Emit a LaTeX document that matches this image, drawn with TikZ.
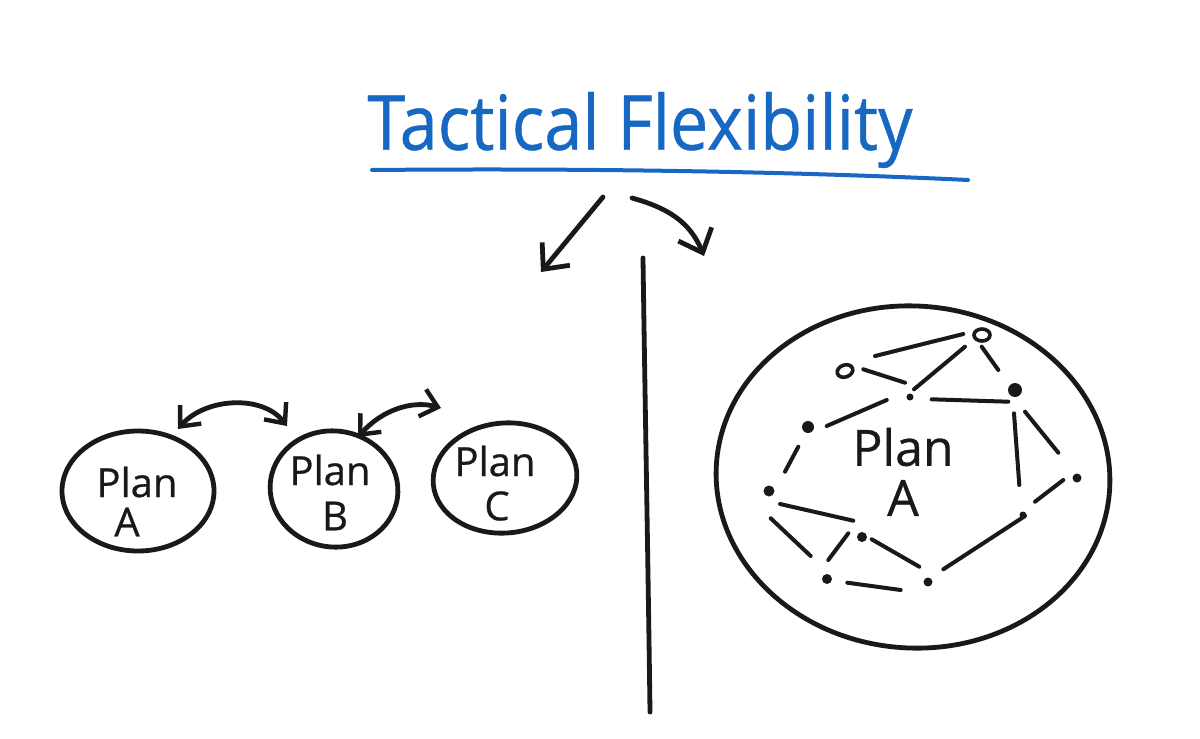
\documentclass[tikz,border=0pt]{standalone}
\usepackage{fontspec}
\setmainfont{Open Sans}
\newfontfamily\hand[FakeBold=0.6]{Open Sans}
\usetikzlibrary{arrows.meta,shapes.geometric}
\definecolor{penblue}{RGB}{22,104,194}
\definecolor{ink}{RGB}{25,25,25}
\tikzset{
  pen/.style={draw=ink,line width=2.4pt,line cap=round,line join=round},
  thin pen/.style={draw=ink,line width=2pt,line cap=round},
  barb/.style={-{Straight Barb[length=10pt,width=18pt,line width=2.4pt]}},
  dbarb/.style={{Straight Barb[length=8pt,width=14pt,line width=2.2pt]}-{Straight Barb[length=8pt,width=14pt,line width=2.2pt]}},
  plan/.style={pen,ellipse,inner sep=0pt},
  lbl/.style={text=ink,font=\hand\fontsize{20}{20}\selectfont,inner sep=0pt},
  biglbl/.style={text=ink,font=\hand\fontsize{25}{25}\selectfont,inner sep=0pt},
  dot/.style={circle,fill=ink,inner sep=0pt,minimum size=#1},
  odot/.style={ellipse,draw=ink,line width=1.8pt,inner sep=0pt,minimum width=8pt,minimum height=6pt},
}
\begin{document}
\begin{tikzpicture}[x=0.5pt,y=-0.5pt]
\useasboundingbox[fill=white] (0,0) rectangle (1200,739);
% title
\node[text=penblue,font=\hand\fontsize{38}{38}\selectfont,inner sep=0pt] (title) at (640,130) {\scalebox{0.9}[1]{Tactical Flexibility}};
\coordinate (ul1) at (372,170);
\coordinate (ul2) at (968,180);
\draw[draw=penblue,line width=2pt,line cap=round] (ul1) .. controls (600,168) and (800,172) .. (ul2);
% arrows from title
\coordinate (la1) at (603,197);
\coordinate (la2) at (541,272);
\draw[pen,barb] (la1) -- (la2);
\coordinate (ra1) at (632,198);
\coordinate (ra2) at (704,256);
\draw[pen,barb] (ra1) .. controls (668,208) and (690,222) .. (ra2);
% divider
\coordinate (v1) at (643,258);
\coordinate (v2) at (650,712);
\draw[pen] (v1) .. controls (645,400) and (648,560) .. (v2);
% left plans
\node[plan,minimum width=76pt,minimum height=60pt] (pa) at (138,491) {};
\node[plan,minimum width=64pt,minimum height=58pt,rotate=-8] (pb) at (334,489) {};
\node[plan,minimum width=72pt,minimum height=55pt,rotate=5] (pc) at (505,478) {};
\node[lbl] (pat) at (137,482) {Plan};
\node[lbl] (paa) at (127,522) {A};
\node[lbl] (pbt) at (330,470) {Plan};
\node[lbl] (pbb) at (335,516) {B};
\node[lbl] (pct) at (495,461) {Plan};
\node[lbl] (pcc) at (497,506) {C};
% double arrows
\coordinate (ab1) at (178,429);
\coordinate (ab2) at (287,426);
\draw[pen,dbarb] (ab1) .. controls (205,398) and (262,394) .. (ab2);
\coordinate (bc1) at (358,437);
\coordinate (bc2) at (441,408);
\draw[pen,dbarb] (bc1) .. controls (382,410) and (412,400) .. (bc2);
% big plan
\node[plan,minimum width=197pt,minimum height=171pt,rotate=-4] (big) at (913,477) {};
\node[biglbl] (bigt) at (903,447) {Plan};
\node[biglbl] (biga) at (903,498) {A};
% network nodes
\node[odot] (n1) at (982,335) {};
\node[odot,rotate=20] (n2) at (845,371) {};
\node[dot=3.5pt] (n3) at (910,397) {};
\node[dot=7pt] (n4) at (1015,390) {};
\node[dot=6pt] (n5) at (808,427) {};
\node[dot=5.5pt] (n6) at (769,491) {};
\node[dot=4.5pt] (n7) at (1077,478) {};
\node[dot=3.5pt] (n8) at (1023,515) {};
\node[dot=5pt] (n9) at (862,537) {};
\node[dot=5pt] (n10) at (827,579) {};
\node[dot=4.5pt] (n11) at (928,582) {};
% network edges (hand-drawn stubs)
\foreach \xa/\ya/\xb/\yb in {
  863.3/369.3/905/382.7,
  875/356/963.3/334,
  965/346.7/914/389.3,
  981.7/346.7/998.3/370,
  931.7/399.3/1008.3/401.7,
  826.7/426/886.7/400,
  798.3/446.7/785/471.7,
  1014/413.3/1019.3/485,
  1025/411.7/1058.3/452.7,
  1063.3/480/1035/501.7,
  1025/516/943.3/569.3,
  780/504/853.3/520.7,
  770.7/518.3/810.7/556,
  848.3/533.3/828.3/560,
  871.7/539.3/919.3/566.7,
  847.3/582.7/900.7/590}
  {\draw[thin pen] (\xa,\ya) -- (\xb,\yb);}
\end{tikzpicture}
\end{document}
